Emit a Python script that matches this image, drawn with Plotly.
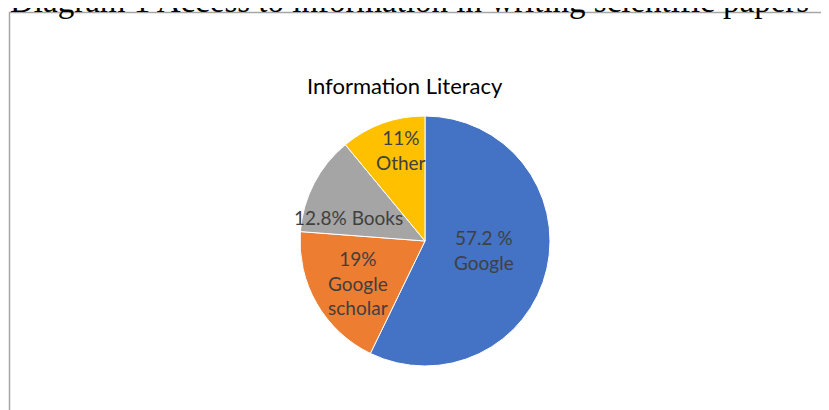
import plotly.graph_objects as go

W, H = 829, 410
OFF = 8  # page body margin of the rendered HTML

# ---- data ----
categories = ["Google", "Google scholar", "Books", "Other"]
values = [57.2, 19, 12.8, 11]
label_texts = ["57.2 %<br>Google", "19%<br>Google<br>scholar", "12.8% Books", "11%<br>Other"]
colors = ["#4472C4", "#ED7D31", "#A5A5A5", "#FFC000"]
chart_title = "Information Literacy"
doc_title = "Diagram 1 Access to information in writing scientific papers"

# ---- layout helpers (screen pixel -> paper) ----
def px(x):
    return (x - OFF) / W

def py(y):
    return 1 - (y - OFF) / H

# label anchor positions (pixels, centre of text block)
label_pos = [(484, 250), (358, 283), (348, 217), (401, 150)]

fig = go.Figure(
    go.Pie(
        labels=categories,
        values=values,
        sort=False,
        direction="clockwise",
        rotation=0,
        marker=dict(colors=colors, line=dict(color="white", width=1)),
        textinfo="none",
        hoverinfo="label+percent",
        domain=dict(x=[px(300), px(550)], y=[py(366), py(116)]),
        showlegend=False,
    )
)

annotations = []
for txt, (lx, ly) in zip(label_texts, label_pos):
    annotations.append(dict(
        x=px(lx), y=py(ly), xref="paper", yref="paper",
        text=txt, showarrow=False, xanchor="center", yanchor="middle",
        font=dict(family="Lato", size=19, color="#404040"),
    ))

annotations.append(dict(
    x=px(405), y=py(86), xref="paper", yref="paper",
    text=chart_title, showarrow=False, xanchor="center", yanchor="middle",
    font=dict(family="Lato", size=22, color="#000000"),
))

annotations.append(dict(
    x=px(8), y=py(1.5), xref="paper", yref="paper",
    text=doc_title, showarrow=False, xanchor="left", yanchor="middle",
    font=dict(family="Liberation Serif", size=33, color="#000000"),
))

shapes = [dict(
    type="rect", xref="paper", yref="paper",
    x0=px(9.5), x1=px(W + 30), y0=py(H + 30), y1=py(12.5),
    line=dict(color="#A6A6A6", width=1.5), fillcolor="rgba(0,0,0,0)",
)]

fig.update_layout(
    width=W, height=H,
    margin=dict(l=0, r=0, t=0, b=0),
    paper_bgcolor="white", plot_bgcolor="white",
    annotations=annotations, shapes=shapes,
)

fig.write_html("out.html")
